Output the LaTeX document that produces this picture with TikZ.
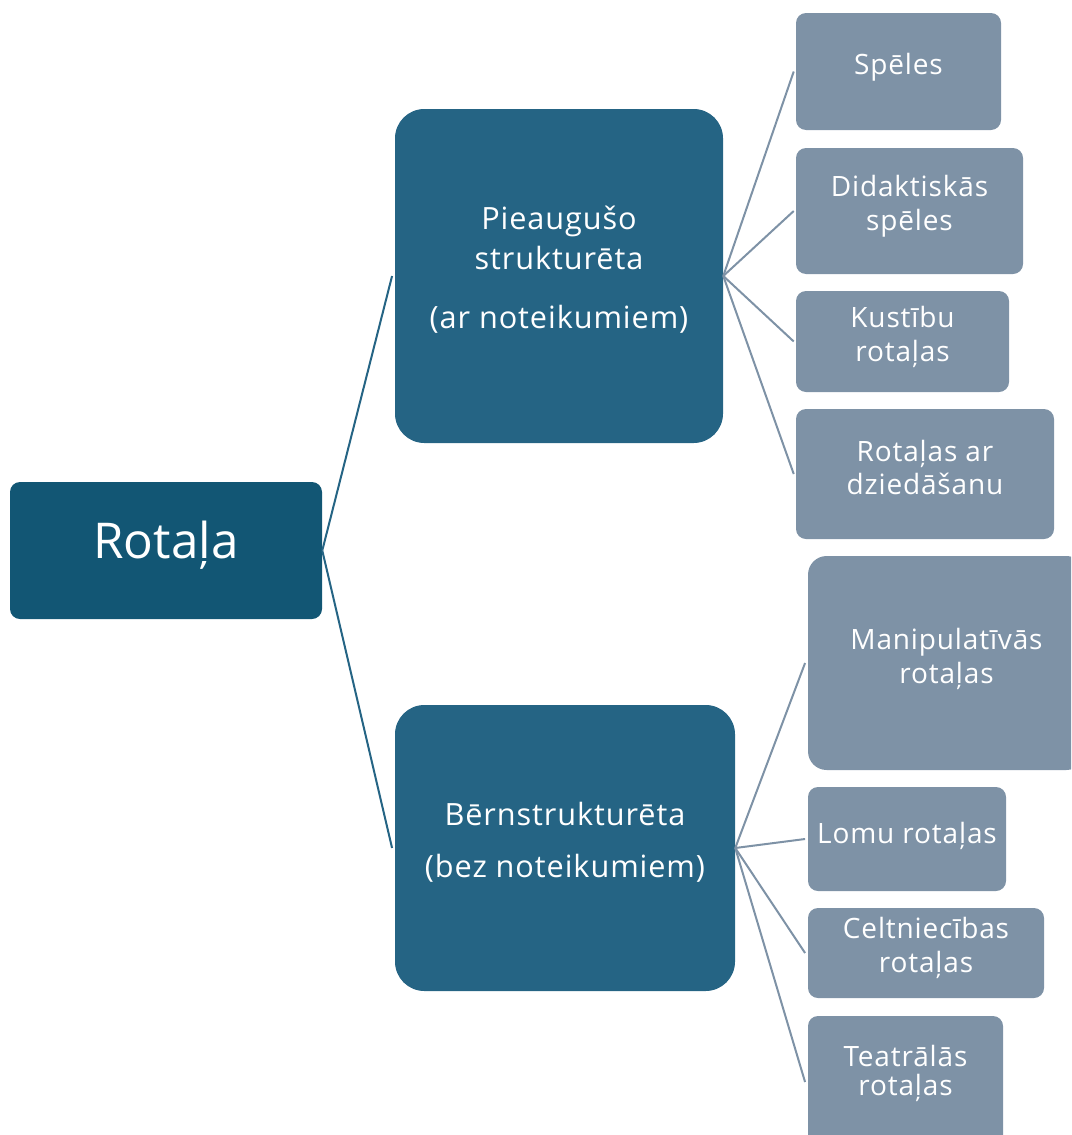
\documentclass[tikz,border=0pt]{standalone}
\usepackage{fontspec}
\setmainfont{Open Sans}[LetterSpace=3]
\newfontfamily\rootfont{Open Sans}
\definecolor{rootc}{RGB}{18,86,116}
\definecolor{midc}{RGB}{37,100,132}
\definecolor{leafc}{RGB}{126,146,166}
\begin{document}
\begin{tikzpicture}[x=0.75pt,y=-0.75pt,
  rootbox/.style={fill=rootc,draw=none,rounded corners=7.5pt,inner sep=0pt},
  midbox/.style={fill=midc,draw=none,rounded corners=22pt,inner sep=0pt},
  leafbox/.style={fill=leafc,draw=none,rounded corners=7.5pt,inner sep=0pt},
  roottext/.style={text=white,font=\rootfont\fontsize{37}{44}\selectfont,anchor=base,yshift=-9.9pt,inner sep=0pt},
  midtext/.style={text=white,font=\fontsize{23}{28}\selectfont,anchor=base,yshift=-6.15pt,inner sep=0pt},
  leaftext/.style={text=white,font=\fontsize{21}{26}\selectfont,anchor=base,yshift=-5.6pt,inner sep=0pt},
  rootline/.style={draw=midc,line width=1.5pt},
  leafline/.style={draw=leafc,line width=1.5pt}]
\useasboundingbox (0,0) rectangle (1071,1135);
\clip (0,0) rectangle (1071,1135);
% boxes
\node[rootbox,minimum width=234pt,minimum height=102.75pt] (root) at (166,550.5) {};
\node[midbox,minimum width=246pt,minimum height=250.5pt] (adult) at (559,276) {};
\node[midbox,minimum width=255pt,minimum height=214.5pt] (child) at (565,848) {};
\node[leafbox,minimum width=153.75pt,minimum height=87.75pt] (c1) at (898.5,71.5) {};
\node[leafbox,minimum width=170.25pt,minimum height=94.5pt] (c2) at (909.5,211) {};
\node[leafbox,minimum width=159.75pt,minimum height=75.75pt] (c3) at (902.5,341.5) {};
\node[leafbox,minimum width=193.5pt,minimum height=97.5pt] (c4) at (925,474) {};
\node[leafbox,rounded corners=14pt,minimum width=207.75pt,minimum height=160.5pt] (c5) at (946.5,663) {};
\node[leafbox,minimum width=148.5pt,minimum height=78pt] (c6) at (907,839) {};
\node[leafbox,minimum width=177pt,minimum height=67.5pt] (c7) at (926,953) {};
\node[leafbox,minimum width=146.25pt,minimum height=99pt] (c8) at (905.5,1082) {};
% texts
\node[roottext] (tr) at (166,545) {Rotaļa};
\node[midtext] (ta1) at (559,221.5) {Pieaugušo};
\node[midtext] (ta2) at (559,261) {strukturēta};
\node[midtext] (ta3) at (559,320) {(ar noteikumiem)};
\node[midtext] (tb1) at (565,817) {Bērnstrukturēta};
\node[midtext] (tb2) at (565,869.5) {(bez noteikumiem)};
\node[leaftext] (t11) at (898.5,67.5) {Spēles};
\node[leaftext] (t21) at (909.5,189.5) {Didaktiskās};
\node[leaftext] (t22) at (909.5,223.5) {spēles};
\node[leaftext] (t31) at (902.5,320.5) {Kustību};
\node[leaftext] (t32) at (902.5,354.5) {rotaļas};
\node[leaftext] (t41) at (925,454.5) {Rotaļas ar};
\node[leaftext] (t42) at (925,487) {dziedāšanu};
\node[leaftext] (t51) at (946.5,642) {Manipulatīvās};
\node[leaftext] (t52) at (946.5,676) {rotaļas};
\node[leaftext] (t61) at (907,836.5) {Lomu rotaļas};
\node[leaftext] (t71) at (926,931) {Celtniecības};
\node[leaftext] (t72) at (926,965) {rotaļas};
\node[leaftext] (t81) at (905.5,1059) {Teatrālās};
\node[leaftext] (t82) at (905.5,1088.5) {rotaļas};
% connectors
\draw[rootline] (root.east) -- ([xshift=-2pt]adult.west);
\draw[rootline] (root.east) -- ([xshift=-2pt]child.west);
\foreach \n in {c1,c2,c3,c4} \draw[leafline] (adult.east) -- ([xshift=-1.5pt]\n.west);
\foreach \n in {c5,c6,c7,c8} \draw[leafline] (child.east) -- ([xshift=-2pt]\n.west);
\end{tikzpicture}
\end{document}
